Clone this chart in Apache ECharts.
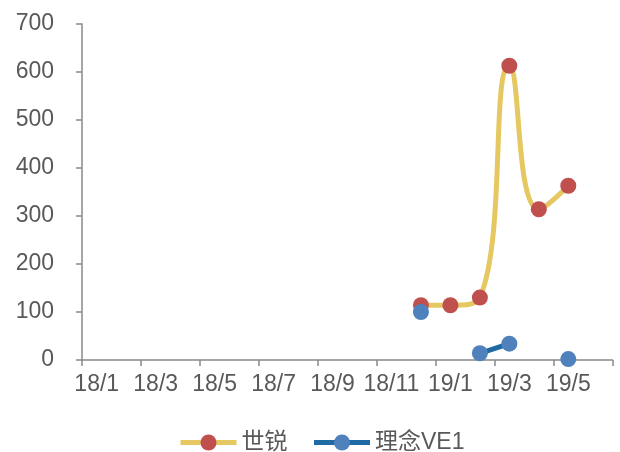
<!DOCTYPE html>
<html>
<head>
<meta charset="utf-8">
<script src="https://cdn.jsdelivr.net/npm/echarts@6/dist/echarts.min.js"></script>
<style>html,body{margin:0;padding:0;background:#fff;}#c{width:620px;height:452px;}</style>
</head>
<body>
<div id="c"></div>
<script>
const categories = ['18/1','18/2','18/3','18/4','18/5','18/6','18/7','18/8','18/9','18/10','18/11','18/12','19/1','19/2','19/3','19/4','19/5','19/6'];
const seriesNames = ['世锐', '理念VE1'];
const shiRui = [null,null,null,null,null,null,null,null,null,null,null,114,114,130,613,314,363,null];
const lixiang = [null,null,null,null,null,null,null,null,null,null,null,100,null,14,34,null,2,null];
const yTicks = [0,100,200,300,400,500,600,700];

const font = 'Arial, "Liberation Sans", "Noto Sans CJK SC", sans-serif';
const chart = echarts.init(document.getElementById('c'), null, {renderer: 'canvas'});
chart.setOption({
  animation: false,
  backgroundColor: '#ffffff',
  grid: {left: 82, right: 7.5, top: 24, bottom: 92, containLabel: false},
  legend: {
    data: seriesNames,
    left: 173,
    top: 426,
    itemWidth: 56,
    itemHeight: 20,
    itemGap: 24,
    lineStyle: {width: 5},
    textStyle: {color: '#595959', fontSize: 23, fontFamily: font}
  },
  xAxis: {
    type: 'category',
    data: categories,
    boundaryGap: true,
    axisLine: {lineStyle: {color: '#898989', width: 1.5}},
    axisTick: {show: true, interval: 1, length: 6, lineStyle: {color: '#898989', width: 1.5}},
    axisLabel: {interval: 1, color: '#595959', fontSize: 23, fontFamily: font, margin: 13},
    splitLine: {show: false}
  },
  yAxis: {
    type: 'value',
    min: yTicks[0],
    max: yTicks[yTicks.length - 1],
    interval: 100,
    axisLine: {show: true, lineStyle: {color: '#898989', width: 1.5}},
    axisTick: {show: true, length: 6, lineStyle: {color: '#898989', width: 1.5}},
    axisLabel: {color: '#595959', fontSize: 23, fontFamily: font, margin: 28},
    splitLine: {show: false}
  },
  series: [
    {
      name: seriesNames[0],
      type: 'line',
      data: shiRui,
      smooth: 0.5,
      connectNulls: false,
      symbol: 'circle',
      symbolSize: 16,
      showSymbol: true,
      lineStyle: {color: '#E6C862', width: 5},
      itemStyle: {color: '#C0504D'},
      color: '#C0504D'
    },
    {
      name: seriesNames[1],
      type: 'line',
      data: lixiang,
      smooth: false,
      connectNulls: false,
      symbol: 'circle',
      symbolSize: 16,
      showSymbol: true,
      lineStyle: {color: '#1F69A4', width: 5},
      itemStyle: {color: '#4F81BD'},
      color: '#4F81BD'
    }
  ]
});
</script>
</body>
</html>
